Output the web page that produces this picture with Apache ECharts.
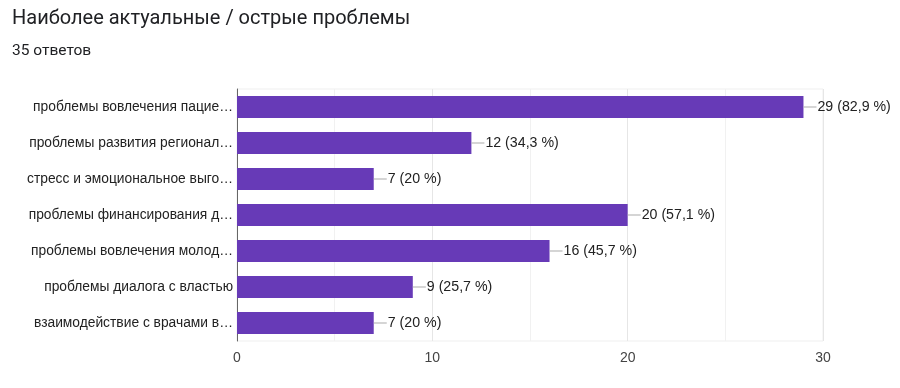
<!DOCTYPE html>
<html><head><meta charset="utf-8">
<script src="https://cdn.jsdelivr.net/npm/echarts@6/dist/echarts.min.js"></script>
<style>html,body{margin:0;padding:0;background:#fff}#c{width:900px;height:388px}</style>
</head><body><div id="c"></div>
<script>
const categories = [
  'проблемы вовлечения пацие…',
  'проблемы развития регионал…',
  'стресс и эмоциональное выго…',
  'проблемы финансирования д…',
  'проблемы вовлечения молод…',
  'проблемы диалога с властью',
  'взаимодействие с врачами в…'
];
const values = [29, 12, 7, 20, 16, 9, 7];
const percents = ['82,9', '34,3', '20', '57,1', '45,7', '25,7', '20'];
const xTicks = [0, 10, 20, 30];

const chart = echarts.init(document.getElementById('c'));
const font = '"Liberation Sans", Arial, sans-serif';
const tfont = 'Roboto, Arial, sans-serif';
chart.setOption({
  animation: false,
  title: [
    { text: 'Наиболее актуальные / острые проблемы', left: 7, top: 4,
      textStyle: { fontFamily: tfont, fontSize: 20, fontWeight: 'normal', color: '#202124' } },
    { text: '35 ответов', left: 7, top: 38,
      textStyle: { fontFamily: tfont, fontSize: 15.5, fontWeight: 'normal', color: '#202124' } }
  ],
  grid: { left: 237, right: 77, top: 89, bottom: 47, show: true, borderColor: '#efefef', borderWidth: 1 },
  xAxis: {
    type: 'value', min: 0, max: 30, interval: 10,
    axisLine: { show: false }, axisTick: { show: false },
    axisLabel: { fontFamily: font, fontSize: 14, color: '#444', margin: 10,
      formatter: v => xTicks.includes(v) ? String(v) : '' },
    splitLine: { show: true, lineStyle: { color: '#e6e6e6' } },
    minorTick: { show: false, splitNumber: 2 },
    minorSplitLine: { show: true, lineStyle: { color: '#f1f1f1' } }
  },
  yAxis: {
    type: 'category', data: categories, inverse: true,
    axisLine: { show: true, lineStyle: { color: '#666' } },
    axisTick: { show: false },
    axisLabel: { fontFamily: font, fontSize: 13.8, color: '#222', margin: 4 }
  },
  series: [{
    type: 'bar', data: values, barWidth: 22,
    itemStyle: { color: '#673ab7' },
    label: {
      show: true, position: 'right', distance: 0,
      formatter: p => '{l|}{t|' + p.value + ' (' + percents[p.dataIndex] + ' %)}',
      rich: {
        l: { width: 13, height: 1, backgroundColor: '#aaa', verticalAlign: 'middle' },
        t: { fontFamily: font, fontSize: 14.2, color: '#222', padding: [0, 0, 0, 1] }
      }
    }
  }]
});
</script></body></html>
